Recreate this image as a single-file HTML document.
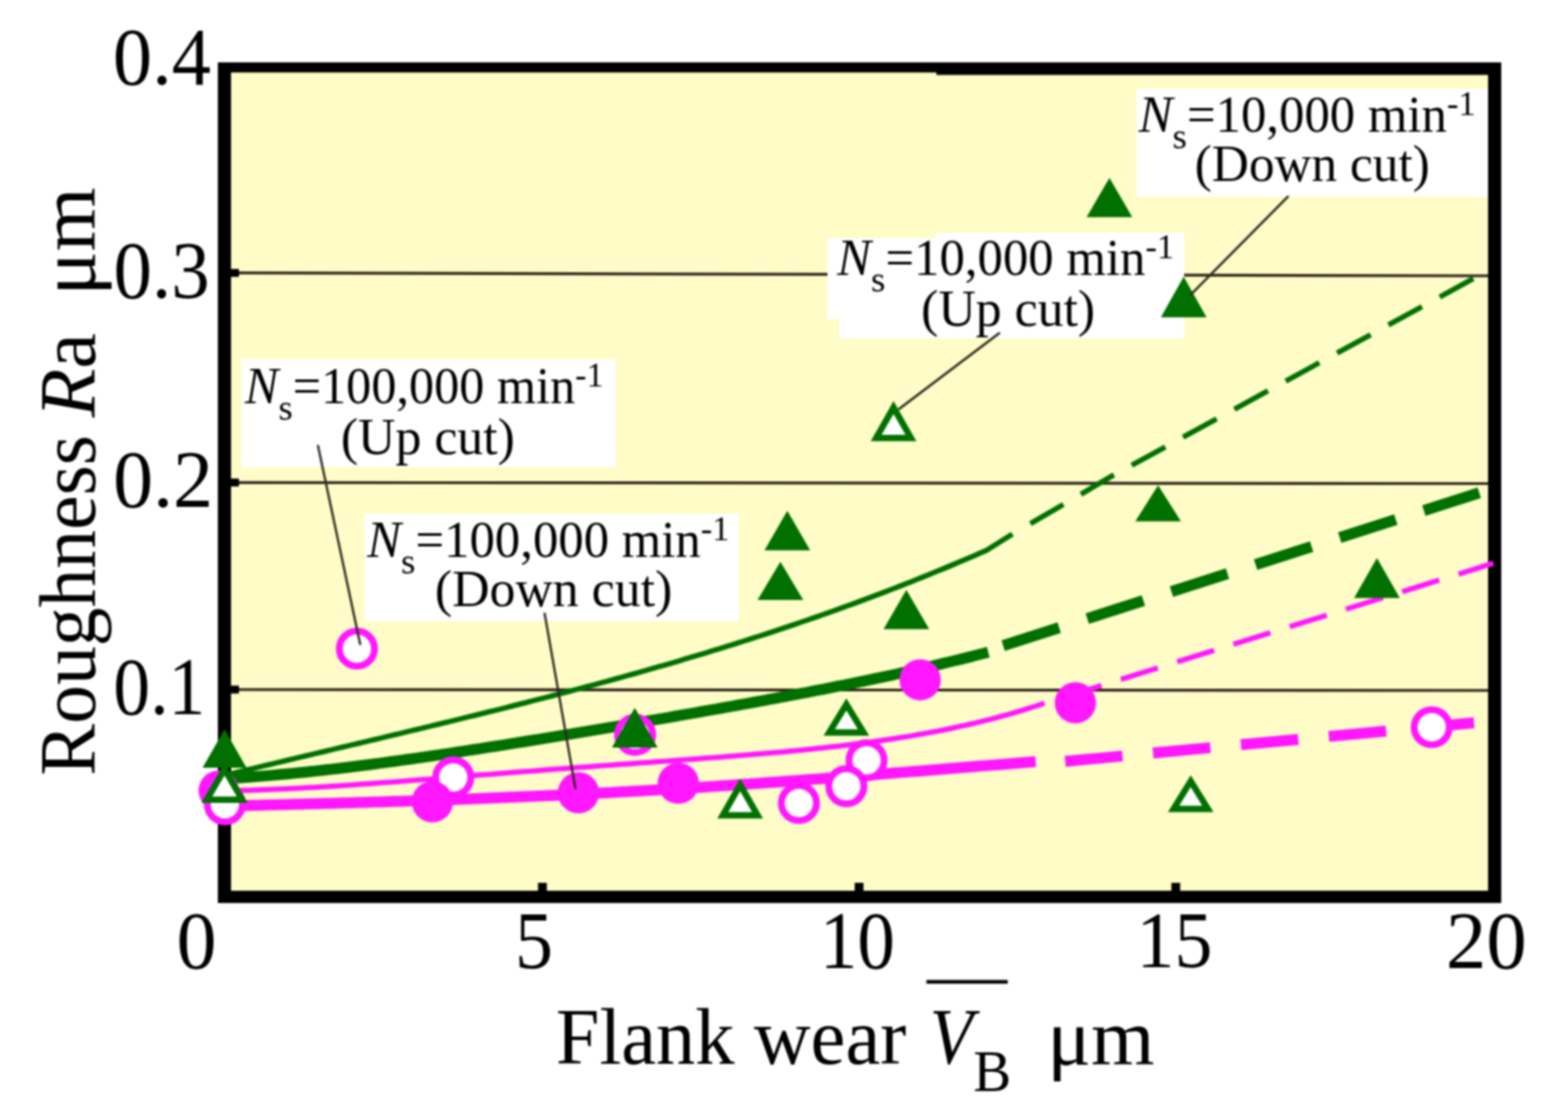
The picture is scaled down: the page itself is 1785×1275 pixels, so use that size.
<!DOCTYPE html><html><head><meta charset="utf-8"><title>Roughness Ra vs flank wear VB</title>
<style>html,body{margin:0;padding:0;background:#fff;overflow:hidden;}svg{display:block;}text{font-family:"Liberation Serif","Times New Roman",serif;fill:#000;}</style></head><body>
<svg width="1785" height="1275" viewBox="0 0 1785 1275">
<rect x="0" y="0" width="1785" height="1275" fill="#fff"/>
<defs><filter id="soft" x="-1%" y="-1%" width="102%" height="102%" color-interpolation-filters="sRGB"><feGaussianBlur stdDeviation="0.9"/></filter></defs><g filter="url(#soft)">
<rect x="256" y="76" width="1446" height="946" fill="#fffcc8"/>
<line x1="262" y1="310.7" x2="1696" y2="314" stroke="#2a2218" stroke-width="3.2"/>
<line x1="262" y1="549.3" x2="1696" y2="550.5" stroke="#2a2218" stroke-width="3.2"/>
<line x1="262" y1="785" x2="1696" y2="786" stroke="#2a2218" stroke-width="3.2"/>
<g fill="#fff">
<rect x="1294" y="101" width="400" height="123"/>
<rect x="942" y="271" width="406" height="92"/>
<rect x="955" y="271" width="393" height="114"/>
<rect x="1065" y="265" width="283" height="10"/>
<rect x="275" y="409" width="426" height="123"/>
<rect x="415" y="585" width="426" height="122"/>
</g>
<g fill="#000">
<rect x="248" y="71" width="15" height="957"/>
<rect x="1694" y="71" width="15" height="957"/>
<rect x="248" y="71" width="820" height="11.5"/>
<rect x="1066" y="71" width="643" height="14.3"/>
<rect x="248" y="1014" width="1461" height="14"/>
<rect x="262" y="306.2" width="10" height="9"/>
<rect x="262" y="544.8" width="10" height="9"/>
<rect x="262" y="780.5" width="10" height="9"/>
<rect x="612.5" y="1005" width="10" height="10"/>
<rect x="973" y="1005" width="10" height="10"/>
<rect x="1333.5" y="1005" width="10" height="10"/>
</g>
<g fill="none" stroke-linejoin="round">
<path d="M258,882.12 L264,880.66 L270,879.2 L276,877.74 L282,876.29 L288,874.84 L294,873.4 L300,871.95 L306,870.51 L312,869.08 L318,867.64 L324,866.21 L330,864.78 L336,863.35 L342,861.92 L348,860.49 L354,859.06 L360,857.64 L366,856.21 L372,854.79 L378,853.37 L384,851.94 L390,850.52 L396,849.1 L402,847.67 L408,846.25 L414,844.83 L420,843.4 L426,841.98 L432,840.55 L438,839.12 L444,837.69 L450,836.26 L456,834.83 L462,833.39 L468,831.95 L474,830.52 L480,829.07 L486,827.63 L492,826.18 L498,824.73 L504,823.28 L510,821.82 L516,820.36 L522,818.9 L528,817.43 L534,815.96 L540,814.49 L546,813.01 L552,811.52 L558,810.03 L564,808.54 L570,807.04 L576,805.54 L582,804.03 L588,802.52 L594,801 L600,799.47 L606,797.94 L612,796.4 L618,794.86 L624,793.31 L630,791.75 L636,790.19 L642,788.62 L648,787.04 L654,785.46 L660,783.86 L666,782.26 L672,780.66 L678,779.04 L684,777.42 L690,775.79 L696,774.15 L702,772.5 L708,770.84 L714,769.18 L720,767.5 L726,765.82 L732,764.13 L738,762.43 L744,760.71 L750,758.99 L756,757.26 L762,755.52 L768,753.77 L774,752.01 L780,750.24 L786,748.45 L792,746.66 L798,744.85 L804,743.04 L810,741.21 L816,739.37 L822,737.52 L828,735.66 L834,733.79 L840,731.9 L846,730 L852,728.09 L858,726.17 L864,724.23 L870,722.28 L876,720.32 L882,718.35 L888,716.36 L894,714.36 L900,712.34 L906,710.32 L912,708.27 L918,706.22 L924,704.15 L930,702.06 L936,699.96 L942,697.85 L948,695.72 L954,693.58 L960,691.42 L966,689.25 L972,687.06 L978,684.85 L984,682.63 L990,680.4 L996,678.15 L1002,675.88 L1008,673.59 L1014,671.29 L1020,668.98 L1026,666.64 L1032,664.29 L1038,661.93 L1044,659.54 L1050,657.14 L1056,654.72 L1062,652.29 L1068,649.83 L1074,647.36 L1080,644.87 L1086,642.37 L1092,639.84 L1098,637.3 L1104,634.73 L1110,632.15 L1116,629.55 L1122,626.93 L1123,626.5 L1152.5,608" stroke="#007000" stroke-width="6"/>
<path d="M1173,596.2 L1265,542.4 L1694,308" stroke="#007000" stroke-width="6" stroke-dasharray="43.5 23.1"/>
<path d="M258,886.29 L264,885.94 L270,885.56 L276,885.17 L282,884.75 L288,884.31 L294,883.86 L300,883.38 L306,882.88 L312,882.37 L318,881.84 L324,881.29 L330,880.72 L336,880.14 L342,879.54 L348,878.93 L354,878.3 L360,877.65 L366,876.99 L372,876.32 L378,875.64 L384,874.94 L390,874.22 L396,873.5 L402,872.76 L408,872.01 L414,871.25 L420,870.48 L426,869.7 L432,868.91 L438,868.11 L444,867.3 L450,866.48 L456,865.65 L462,864.81 L468,863.97 L474,863.11 L480,862.25 L486,861.38 L492,860.5 L498,859.62 L504,858.73 L510,857.83 L516,856.93 L522,856.02 L528,855.11 L534,854.19 L540,853.26 L546,852.33 L552,851.4 L558,850.45 L564,849.51 L570,848.56 L576,847.61 L582,846.65 L588,845.69 L594,844.72 L600,843.75 L606,842.78 L612,841.81 L618,840.83 L624,839.84 L630,838.86 L636,837.87 L642,836.88 L648,835.89 L654,834.89 L660,833.89 L666,832.89 L672,831.89 L678,830.88 L684,829.87 L690,828.86 L696,827.85 L702,826.83 L708,825.81 L714,824.79 L720,823.77 L726,822.74 L732,821.72 L738,820.69 L744,819.65 L750,818.62 L756,817.58 L762,816.54 L768,815.5 L774,814.46 L780,813.41 L786,812.36 L792,811.3 L798,810.25 L804,809.19 L810,808.12 L816,807.06 L822,805.99 L828,804.91 L834,803.84 L840,802.76 L846,801.67 L852,800.58 L858,799.49 L864,798.39 L870,797.29 L876,796.18 L882,795.07 L888,793.95 L894,792.82 L900,791.69 L906,790.56 L912,789.42 L918,788.27 L924,787.11 L930,785.95 L936,784.78 L942,783.6 L948,782.42 L954,781.23 L960,780.03 L966,778.82 L972,777.6 L978,776.37 L984,775.13 L990,773.88 L996,772.63 L1002,771.36 L1008,770.08 L1014,768.79 L1020,767.49 L1026,766.17 L1032,764.85 L1038,763.51 L1044,762.16 L1050,760.79 L1056,759.41 L1062,758.02 L1068,756.61 L1074,755.18 L1080,753.74 L1086,752.29 L1092,750.81 L1098,749.33 L1104,747.82 L1110,746.29 L1116,744.75 L1122,743.19 L1125,742.4" stroke="#007000" stroke-width="12.5"/>
<line x1="1142" y1="735" x2="1684" y2="561" stroke="#007000" stroke-width="12.5" stroke-dasharray="67 33.6"/>
<path d="M258,900.15 L264,900.06 L270,899.95 L276,899.82 L282,899.66 L288,899.49 L294,899.3 L300,899.09 L306,898.86 L312,898.62 L318,898.36 L324,898.09 L330,897.8 L336,897.5 L342,897.19 L348,896.86 L354,896.52 L360,896.17 L366,895.81 L372,895.44 L378,895.06 L384,894.67 L390,894.27 L396,893.87 L402,893.45 L408,893.03 L414,892.61 L420,892.17 L426,891.73 L432,891.29 L438,890.84 L444,890.39 L450,889.93 L456,889.47 L462,889.01 L468,888.54 L474,888.07 L480,887.6 L486,887.13 L492,886.65 L498,886.18 L504,885.7 L510,885.22 L516,884.74 L522,884.26 L528,883.79 L534,883.31 L540,882.83 L546,882.35 L552,881.88 L558,881.4 L564,880.93 L570,880.46 L576,879.99 L582,879.52 L588,879.05 L594,878.58 L600,878.12 L606,877.66 L612,877.19 L618,876.74 L624,876.28 L630,875.82 L636,875.37 L642,874.92 L648,874.47 L654,874.03 L660,873.58 L666,873.14 L672,872.7 L678,872.26 L684,871.82 L690,871.38 L696,870.94 L702,870.51 L708,870.08 L714,869.64 L720,869.21 L726,868.78 L732,868.35 L738,867.91 L744,867.48 L750,867.05 L756,866.62 L762,866.18 L768,865.75 L774,865.31 L780,864.87 L786,864.43 L792,863.98 L798,863.54 L804,863.08 L810,862.63 L816,862.17 L822,861.71 L828,861.24 L834,860.77 L840,860.29 L846,859.8 L852,859.31 L858,858.81 L864,858.31 L870,857.79 L876,857.27 L882,856.74 L888,856.19 L894,855.64 L900,855.08 L906,854.5 L912,853.91 L918,853.31 L924,852.7 L930,852.07 L936,851.43 L942,850.77 L948,850.1 L954,849.41 L960,848.7 L966,847.98 L972,847.24 L978,846.47 L984,845.69 L990,844.88 L996,844.06 L1002,843.21 L1008,842.34 L1014,841.44 L1020,840.52 L1026,839.57 L1032,838.6 L1038,837.59 L1044,836.56 L1050,835.51 L1056,834.42 L1062,833.29 L1068,832.14 L1074,830.95 L1080,829.73 L1086,828.48 L1092,827.19 L1098,825.86 L1104,824.49 L1110,823.09 L1116,821.64 L1122,820.16 L1128,818.63 L1134,817.06 L1140,815.44 L1146,813.78 L1152,812.07 L1158,810.32 L1164,808.51 L1170,806.66 L1176,804.75 L1182,802.79 L1188,800.78 L1189,800.44" stroke="#ff18ff" stroke-width="6"/>
<line x1="1212" y1="793.4" x2="1700" y2="641.2" stroke="#ff18ff" stroke-width="6" stroke-dasharray="44 23.1"/>
<path d="M258,917.66 L264,917.49 L270,917.33 L276,917.17 L282,917 L288,916.84 L294,916.68 L300,916.52 L306,916.36 L312,916.2 L318,916.04 L324,915.88 L330,915.72 L336,915.56 L342,915.4 L348,915.24 L354,915.08 L360,914.92 L366,914.76 L372,914.59 L378,914.43 L384,914.26 L390,914.09 L396,913.92 L402,913.75 L408,913.58 L414,913.41 L420,913.24 L426,913.06 L432,912.88 L438,912.7 L444,912.52 L450,912.33 L456,912.15 L462,911.96 L468,911.77 L474,911.57 L480,911.37 L486,911.18 L492,910.97 L498,910.77 L504,910.56 L510,910.35 L516,910.14 L522,909.92 L528,909.7 L534,909.48 L540,909.26 L546,909.03 L552,908.8 L558,908.56 L564,908.32 L570,908.08 L576,907.84 L582,907.59 L588,907.33 L594,907.08 L600,906.82 L606,906.56 L612,906.29 L618,906.02 L624,905.75 L630,905.47 L636,905.19 L642,904.9 L648,904.61 L654,904.32 L660,904.02 L666,903.72 L672,903.42 L678,903.11 L684,902.8 L690,902.48 L696,902.16 L702,901.84 L708,901.51 L714,901.18 L720,900.85 L726,900.51 L732,900.16 L738,899.82 L744,899.47 L750,899.11 L756,898.76 L762,898.39 L768,898.03 L774,897.66 L780,897.29 L786,896.91 L792,896.53 L798,896.14 L804,895.76 L810,895.37 L816,894.97 L822,894.57 L828,894.17 L834,893.77 L840,893.36 L846,892.95 L852,892.53 L858,892.11 L864,891.69 L870,891.27 L876,890.84 L882,890.41 L888,889.98 L894,889.54 L900,889.1 L906,888.66 L912,888.21 L918,887.77 L924,887.32 L930,886.87 L936,886.41 L942,885.95 L948,885.49 L954,885.03 L960,884.57 L966,884.1 L972,883.64 L978,883.17 L984,882.7 L990,882.22 L996,881.75 L1002,881.27 L1008,880.79 L1014,880.32 L1020,879.84 L1026,879.36 L1032,878.87 L1038,878.39 L1044,877.91 L1050,877.42 L1056,876.94 L1062,876.45 L1068,875.97 L1074,875.48 L1080,875 L1086,874.51 L1092,874.03 L1098,873.54 L1104,873.06 L1110,872.57 L1116,872.09 L1122,871.61 L1128,871.13 L1134,870.65 L1140,870.17 L1146,869.69 L1152,869.21 L1158,868.74 L1164,868.27 L1170,867.8 L1176,867.33 L1179,867.09" stroke="#ff18ff" stroke-width="12.5"/>
<line x1="1212.6" y1="866.8" x2="1680" y2="822.5" stroke="#ff18ff" stroke-width="12.5" stroke-dasharray="65.5 35"/>
</g>
<g>
<circle cx="406.3" cy="738.4" r="20" fill="#fff" stroke="#ff18ff" stroke-width="7.8"/>
<circle cx="516" cy="885" r="20" fill="#fff" stroke="#ff18ff" stroke-width="7.8"/>
<circle cx="723" cy="836.5" r="20" fill="#fff" stroke="#ff18ff" stroke-width="7.8"/>
<circle cx="909.5" cy="914.2" r="20" fill="#fff" stroke="#ff18ff" stroke-width="7.8"/>
<circle cx="986.5" cy="865.5" r="20" fill="#fff" stroke="#ff18ff" stroke-width="7.8"/>
<circle cx="963.5" cy="895" r="20" fill="#fff" stroke="#ff18ff" stroke-width="7.8"/>
<circle cx="1629.9" cy="827.9" r="20" fill="#fff" stroke="#ff18ff" stroke-width="7.8"/>
<circle cx="492.3" cy="912.7" r="23.5" fill="#ff18ff"/>
<circle cx="658.5" cy="902.5" r="23.5" fill="#ff18ff"/>
<circle cx="772.2" cy="891.6" r="23.5" fill="#ff18ff"/>
<circle cx="1047.5" cy="773.9" r="23.5" fill="#ff18ff"/>
<circle cx="1224.2" cy="800" r="23.5" fill="#ff18ff"/>
<polygon points="1263,202.5 1237,247.2 1289,247.2" fill="#007000"/>
<polygon points="1347.5,315 1321.5,361.3 1373.5,361.3" fill="#007000"/>
<polygon points="1318.4,552.6 1292.4,593.5 1344.4,593.5" fill="#007000"/>
<polygon points="896.3,581.5 870.3,626.6 922.3,626.6" fill="#007000"/>
<polygon points="888.4,639.4 862.4,683.1 914.4,683.1" fill="#007000"/>
<polygon points="1031.8,671.5 1005.8,716.2 1057.8,716.2" fill="#007000"/>
<polygon points="1567.5,635.3 1541.5,680.7 1593.5,680.7" fill="#007000"/>
<polygon points="722.6,805.8 696.6,851 748.6,851" fill="#007000"/>
<polygon points="1017.2,456.6 991.2,502.2 1043.2,502.2" fill="#007000"/>
<polygon points="1017.2,471.14 1003.59,495 1030.81,495" fill="#fff"/>
<polygon points="842.6,886.2 816.6,931.7 868.6,931.7" fill="#007000"/>
<polygon points="842.6,900.71 829.01,924.5 856.19,924.5" fill="#fff"/>
<polygon points="963.5,795 937.5,837.5 989.5,837.5" fill="#007000"/>
<polygon points="963.5,808.8 950.35,830.3 976.65,830.3" fill="#fff"/>
<polygon points="1355.5,882.4 1329.5,924.4 1381.5,924.4" fill="#007000"/>
<polygon points="1355.5,896.08 1342.43,917.2 1368.57,917.2" fill="#fff"/>
</g>
<g stroke="#2e2a1e" stroke-width="2.6" stroke-linecap="round">
<line x1="1466" y1="224" x2="1356" y2="335"/>
<line x1="1137.4" y1="379.4" x2="1023.8" y2="465.4"/>
<line x1="362" y1="507.6" x2="410" y2="733.2"/>
<line x1="620" y1="698.5" x2="655" y2="897"/>
</g>
<g>
<circle cx="249" cy="900" r="23" fill="#ff18ff"/>
<circle cx="256" cy="915.5" r="20" fill="#fff" stroke="#ff18ff" stroke-width="7.8"/>
<polygon points="255.6,830.3 230.6,874 280.6,874" fill="#007000"/>
<polygon points="255.6,868.5 229.1,913.9 282.1,913.9" fill="#007000"/>
<polygon points="255.6,882.78 241.64,906.7 269.56,906.7" fill="#fff"/>
</g>
<g>
<g transform="matrix(0.96 0 0 1.01 128.55 95.89)"><text x="0" y="0" font-size="93">0.4</text></g>
<g transform="matrix(0.94 0 0 1 129.35 338.9)"><text x="0" y="0" font-size="93">0.3</text></g>
<g transform="matrix(0.98 0 0 1 128.77 577.3)"><text x="0" y="0" font-size="93">0.2</text></g>
<g transform="matrix(0.9 0 0 1 129.1 812.6)"><text x="0" y="0" font-size="93">0.1</text></g>
<g transform="matrix(0.98 0 0 1.01 201.07 1101.79)"><text x="0" y="0" font-size="93">0</text></g>
<g transform="matrix(0.93 0 0 1 586.33 1101.8)"><text x="0" y="0" font-size="93">5</text></g>
<g transform="matrix(0.92 0 0 1.01 933.33 1101.79)"><text x="0" y="0" font-size="93">10</text></g>
<g transform="matrix(0.93 0 0 0.99 1293.86 1101.01)"><text x="0" y="0" font-size="93">15</text></g>
<g transform="matrix(0.99 0 0 1.01 1646.06 1101.79)"><text x="0" y="0" font-size="93">20</text></g>
<g transform="matrix(0.97 0 0 0.98 632.8 1211.02)"><text x="0" y="0" font-size="92">Flank wear</text></g>
<g transform="matrix(0.88 0 0 1 1058.3 1211.1)"><text x="0" y="0" font-size="92" font-style="italic">V</text></g>
<g transform="matrix(0.98 0 0 1.02 1107.95 1242.2)"><text x="0" y="0" font-size="66">B</text></g>
<g transform="matrix(1.01 0 0 1 1192.14 1212.1)"><text x="0" y="0" font-size="92">μm</text></g>
<g transform="matrix(0 -0.96 1 0 108.2 882.89)"><text x="0" y="0" font-size="92">Roughness</text></g>
<g transform="matrix(0 -0.99 1 0 108 475.3)"><text x="0" y="0" font-size="92"><tspan font-style="italic">R</tspan>a</text></g>
<g transform="matrix(0 -1.02 1 0 107.6 336.53)"><text x="0" y="0" font-size="92">μm</text></g>
<g transform="matrix(0.98 0 0 1 1296.2 149.7)"><text x="0" y="0" font-size="59" xml:space="preserve"><tspan font-style="italic">N</tspan><tspan font-size="43" dy="19">s</tspan><tspan dy="-19">=10,000 min</tspan><tspan font-size="40" dy="-19">-1</tspan></text></g>
<g transform="matrix(0.99 0 0 1 1360.04 206.3)"><text x="0" y="0" font-size="59">(Down cut)</text></g>
<g transform="matrix(0.98 0 0 1 952.9 312.8)"><text x="0" y="0" font-size="59" xml:space="preserve"><tspan font-style="italic">N</tspan><tspan font-size="43" dy="19">s</tspan><tspan dy="-19">=10,000 min</tspan><tspan font-size="40" dy="-19">-1</tspan></text></g>
<g transform="matrix(1 0 0 1 1048.51 370.5)"><text x="0" y="0" font-size="59">(Up cut)</text></g>
<g transform="matrix(0.97 0 0 1 278.8 458.8)"><text x="0" y="0" font-size="59" xml:space="preserve"><tspan font-style="italic">N</tspan><tspan font-size="43" dy="19">s</tspan><tspan dy="-19">=100,000 min</tspan><tspan font-size="40" dy="-19">-1</tspan></text></g>
<g transform="matrix(1 0 0 1 387.9 516.8)"><text x="0" y="0" font-size="59">(Up cut)</text></g>
<g transform="matrix(0.98 0 0 1 417.9 633.8)"><text x="0" y="0" font-size="59" xml:space="preserve"><tspan font-style="italic">N</tspan><tspan font-size="43" dy="19">s</tspan><tspan dy="-19">=100,000 min</tspan><tspan font-size="40" dy="-19">-1</tspan></text></g>
<g transform="matrix(1 0 0 1 495.01 690.4)"><text x="0" y="0" font-size="59">(Down cut)</text></g>
</g>
<rect x="1054.6" y="1115.6" width="92.6" height="4.2" fill="#000"/>
</g>
</svg></body></html>
